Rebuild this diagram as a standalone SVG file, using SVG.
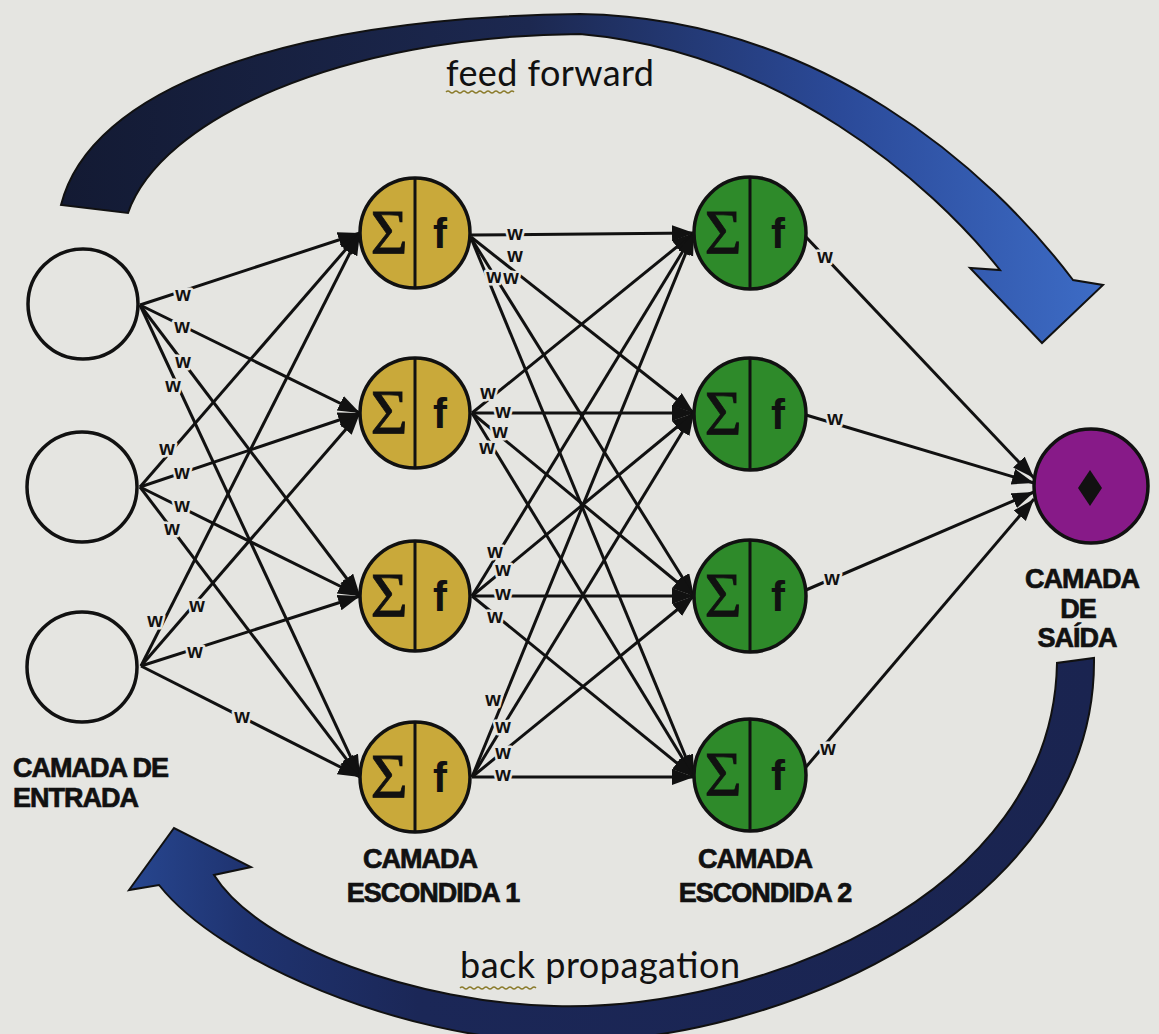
<svg xmlns="http://www.w3.org/2000/svg" width="1159" height="1034" viewBox="0 0 1159 1034">
<defs>
<linearGradient id="gTop" x1="0" y1="0" x2="1" y2="0">
<stop offset="0" stop-color="#131a33"/>
<stop offset="0.45" stop-color="#1c2850"/>
<stop offset="0.75" stop-color="#2b4a99"/>
<stop offset="1" stop-color="#3d6cc6"/>
</linearGradient>
<linearGradient id="gBot" x1="0" y1="0" x2="1" y2="0">
<stop offset="0" stop-color="#27468f"/>
<stop offset="0.12" stop-color="#1f3370"/>
<stop offset="0.3" stop-color="#1b2757"/>
<stop offset="1" stop-color="#1a2450"/>
</linearGradient>
<marker id="ah" markerUnits="userSpaceOnUse" markerWidth="24" markerHeight="18" refX="22" refY="8" orient="auto">
<path d="M0,0 L22,8 L0,16 Z" fill="#111"/>
</marker>
<style>
.bg{fill:#e5e5e1}
.c{stroke:#111;stroke-width:3;fill:none;marker-end:url(#ah)}
.w{font-family:"Liberation Sans",Arial,sans-serif;font-weight:bold;font-size:20px;fill:#111;text-anchor:middle;paint-order:stroke;stroke:#e5e5e1;stroke-width:5px;stroke-linejoin:round}
.in{fill:none;stroke:#111;stroke-width:3.5}
.h1{fill:#c9a93a;stroke:#111;stroke-width:3.5}
.h2{fill:#2e8a2a;stroke:#111;stroke-width:3.5}
.out{fill:#871a88;stroke:#111;stroke-width:3.5}
.div{stroke:#111;stroke-width:3}
.sig{font-family:"Liberation Serif","Times New Roman",serif;font-size:64px;fill:#111;text-anchor:middle;stroke:#111;stroke-width:0.8}
.f{font-family:"Liberation Sans",Arial,sans-serif;font-weight:bold;font-size:42px;fill:#111;text-anchor:middle}
.lbl{font-family:"Liberation Sans",Arial,sans-serif;font-weight:bold;font-size:27px;fill:#111;letter-spacing:-1px;stroke:#111;stroke-width:0.7}
.ff{font-family:Lato,"Open Sans",sans-serif;font-size:36px;fill:#111}
.arrow{stroke:#111;stroke-width:2}
.sq{fill:none;stroke:#8a7a2a;stroke-width:1.5}
</style>
</defs>
<rect class="bg" x="0" y="0" width="1159" height="1034"/>

<g id="feed-forward-arrow">
<path class="arrow" fill="url(#gTop)" d="M 61,205 C 90,90 280,18 580,14 C 820,18 990,170 1073,280 L 1103,285 L 1042,343 L 970,268 L 1000,270 C 930,182 780,52 580,34 C 340,36 160,120 128,213 Z"/>
<text class="ff" x="446" y="86" textLength="208">feed forward</text>
<path class="sq" d="M446,92 q2,-2 4,0 t4,0 t4,0 t4,0 t4,0 t4,0 t4,0 t4,0 t4,0 t4,0 t4,0 t4,0 t4,0 t4,0 t4,0 t4,0 t4,0"/>
</g>

<g id="back-propagation-arrow">
<path class="arrow" fill="url(#gBot)" d="M 1094,658 C 1097,905 780,1046 554,1042 C 400,1038 220,962 159,885 L 129,890 L 174,828 L 251,867 L 214,875 C 260,948 420,1003 554,1006 C 750,1012 1053,900 1057,663 Z"/>
<text class="ff" x="460" y="978" textLength="280">back propagation</text>
<path class="sq" d="M460,988 q2,-2 4,0 t4,0 t4,0 t4,0 t4,0 t4,0 t4,0 t4,0 t4,0 t4,0 t4,0 t4,0 t4,0 t4,0 t4,0 t4,0 t4,0 t4,0 t4,0"/>
</g>

<g id="connectors">
<line class="c" x1="140" y1="305" x2="360" y2="233"/>
<line class="c" x1="140" y1="305" x2="360" y2="413"/>
<line class="c" x1="140" y1="305" x2="360" y2="596"/>
<line class="c" x1="140" y1="305" x2="360" y2="777"/>
<line class="c" x1="140" y1="487" x2="360" y2="233"/>
<line class="c" x1="140" y1="487" x2="360" y2="413"/>
<line class="c" x1="140" y1="487" x2="360" y2="596"/>
<line class="c" x1="140" y1="487" x2="360" y2="777"/>
<line class="c" x1="141" y1="666" x2="360" y2="233"/>
<line class="c" x1="141" y1="666" x2="360" y2="413"/>
<line class="c" x1="141" y1="666" x2="360" y2="596"/>
<line class="c" x1="141" y1="666" x2="360" y2="777"/>
<line class="c" x1="471" y1="235" x2="694" y2="233"/>
<line class="c" x1="471" y1="237" x2="694" y2="413"/>
<line class="c" x1="471" y1="238" x2="694" y2="596"/>
<line class="c" x1="471" y1="238" x2="694" y2="777"/>
<line class="c" x1="472" y1="413" x2="694" y2="233"/>
<line class="c" x1="472" y1="413" x2="694" y2="413"/>
<line class="c" x1="472" y1="413" x2="694" y2="596"/>
<line class="c" x1="472" y1="413" x2="694" y2="777"/>
<line class="c" x1="472" y1="596" x2="694" y2="233"/>
<line class="c" x1="472" y1="596" x2="694" y2="413"/>
<line class="c" x1="472" y1="596" x2="694" y2="596"/>
<line class="c" x1="472" y1="596" x2="694" y2="777"/>
<line class="c" x1="472" y1="777" x2="694" y2="233"/>
<line class="c" x1="472" y1="777" x2="694" y2="413"/>
<line class="c" x1="472" y1="777" x2="694" y2="596"/>
<line class="c" x1="472" y1="777" x2="694" y2="777"/>
<line class="c" x1="806" y1="237" x2="1034" y2="478"/>
<line class="c" x1="806" y1="415" x2="1034" y2="483"/>
<line class="c" x1="806" y1="590" x2="1034" y2="492"/>
<line class="c" x1="806" y1="767" x2="1034" y2="499"/>
</g>

<g id="weights">
<text class="w" x="183" y="301">w</text>
<text class="w" x="182" y="333">w</text>
<text class="w" x="183" y="368">w</text>
<text class="w" x="173" y="392">w</text>
<text class="w" x="167" y="455">w</text>
<text class="w" x="182" y="479">w</text>
<text class="w" x="182" y="512">w</text>
<text class="w" x="172" y="535">w</text>
<text class="w" x="155" y="627">w</text>
<text class="w" x="197" y="612">w</text>
<text class="w" x="195" y="658">w</text>
<text class="w" x="242" y="723">w</text>
<text class="w" x="515" y="240">w</text>
<text class="w" x="515" y="262">w</text>
<text class="w" x="494" y="283">w</text>
<text class="w" x="511" y="284">w</text>
<text class="w" x="488" y="399">w</text>
<text class="w" x="503" y="418">w</text>
<text class="w" x="500" y="438">w</text>
<text class="w" x="487" y="454">w</text>
<text class="w" x="495" y="558">w</text>
<text class="w" x="503" y="576">w</text>
<text class="w" x="503" y="600">w</text>
<text class="w" x="495" y="623">w</text>
<text class="w" x="493" y="706">w</text>
<text class="w" x="503" y="733">w</text>
<text class="w" x="503" y="759">w</text>
<text class="w" x="503" y="781">w</text>
<text class="w" x="825" y="263">w</text>
<text class="w" x="835" y="425">w</text>
<text class="w" x="832" y="585">w</text>
<text class="w" x="828" y="755">w</text>
</g>

<g id="input-1"><circle class="in" cx="83" cy="304" r="55"/></g>
<g id="input-2"><circle class="in" cx="82" cy="487" r="55"/></g>
<g id="input-3"><circle class="in" cx="82" cy="667" r="55"/></g>

<g id="hidden1-1"><circle class="h1" cx="415" cy="233" r="55"/><line class="div" x1="415" y1="178" x2="415" y2="288"/><text class="sig" x="389" y="254">Σ</text><text class="f" x="440" y="248">f</text></g>
<g id="hidden1-2"><circle class="h1" cx="415" cy="413" r="55"/><line class="div" x1="415" y1="358" x2="415" y2="468"/><text class="sig" x="389" y="434">Σ</text><text class="f" x="440" y="428">f</text></g>
<g id="hidden1-3"><circle class="h1" cx="415" cy="596" r="55"/><line class="div" x1="415" y1="541" x2="415" y2="651"/><text class="sig" x="389" y="617">Σ</text><text class="f" x="440" y="611">f</text></g>
<g id="hidden1-4"><circle class="h1" cx="415" cy="777" r="55"/><line class="div" x1="415" y1="722" x2="415" y2="832"/><text class="sig" x="389" y="798">Σ</text><text class="f" x="440" y="792">f</text></g>

<g id="hidden2-1"><circle class="h2" cx="750" cy="233" r="56"/><line class="div" x1="750" y1="177" x2="750" y2="289"/><text class="sig" x="723" y="254">Σ</text><text class="f" x="778" y="248">f</text></g>
<g id="hidden2-2"><circle class="h2" cx="750" cy="414" r="56"/><line class="div" x1="750" y1="358" x2="750" y2="470"/><text class="sig" x="723" y="435">Σ</text><text class="f" x="778" y="429">f</text></g>
<g id="hidden2-3"><circle class="h2" cx="750" cy="596" r="56"/><line class="div" x1="750" y1="540" x2="750" y2="652"/><text class="sig" x="723" y="617">Σ</text><text class="f" x="778" y="611">f</text></g>
<g id="hidden2-4"><circle class="h2" cx="750" cy="775" r="56"/><line class="div" x1="750" y1="719" x2="750" y2="831"/><text class="sig" x="723" y="796">Σ</text><text class="f" x="778" y="790">f</text></g>

<g id="output"><circle class="out" cx="1091" cy="486" r="57"/><path d="M1090,470 L1102,488 L1090,506 L1078,488 Z" fill="#111"/></g>

<g id="labels">
<text class="lbl" x="13" y="777">CAMADA DE</text>
<text class="lbl" x="13" y="807">ENTRADA</text>
<text class="lbl" x="420" y="868" text-anchor="middle">CAMADA</text>
<text class="lbl" x="433" y="902" text-anchor="middle">ESCONDIDA 1</text>
<text class="lbl" x="755" y="868" text-anchor="middle">CAMADA</text>
<text class="lbl" x="765" y="902" text-anchor="middle">ESCONDIDA 2</text>
<text class="lbl" x="1082" y="588" text-anchor="middle">CAMADA</text>
<text class="lbl" x="1078" y="618" text-anchor="middle">DE</text>
<text class="lbl" x="1077" y="647" text-anchor="middle">SAÍDA</text>
</g>
</svg>
